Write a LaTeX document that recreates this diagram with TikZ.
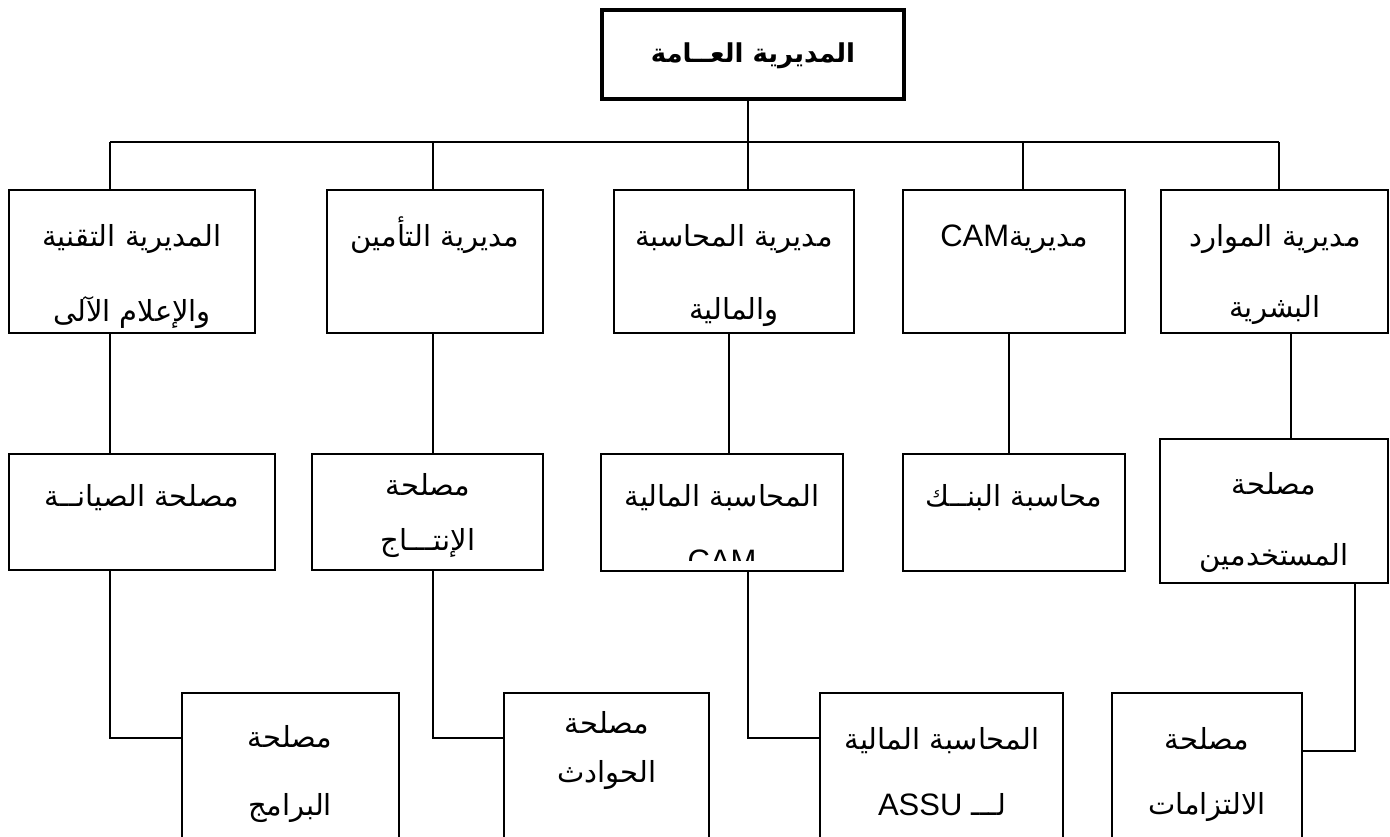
\documentclass[tikz,border=0pt]{standalone}
\usepackage{fontspec}
\setmainfont{Liberation Sans}
\newfontfamily\arabicfont[Script=Arabic]{DejaVu Sans}
\newfontfamily\latinfont{Liberation Sans}
\TeXXeTstate=1
\usetikzlibrary{fit}
\newcommand\artext[1]{\beginR#1\endR}
\newcommand\lat[1]{\beginL{\latinfont\fontsize{31}{36}\selectfont #1}\endL}

\begin{document}
\begin{tikzpicture}[x=1pt,y=-1pt,
  unit/.style={draw, line width=1.6pt, inner sep=0pt, outer sep=0pt},
  headunit/.style={unit, line width=3.6pt},
  link/.style={draw, line width=1.6pt},
  caption/.style={inner sep=0pt, font=\arabicfont\fontsize{29}{34}\selectfont,
                  text height=0.9em, text depth=0.1em, yshift=-5pt},
  headcaption/.style={caption, font=\arabicfont\bfseries\fontsize{26}{30}\selectfont}]

\useasboundingbox (0,0) rectangle (1390,836);
\clip (0,0) rectangle (1390,836);

% general management
\node[headunit, fit={(602,10)(904,99)}] (gm) {};
\node[headcaption] (gmT) at (753,53) {\artext{المديرية العــامة}};

% directorates
\node[unit, fit={(9,190)(255,333)}]    (d1) {};
\node[unit, fit={(327,190)(543,333)}]  (d2) {};
\node[unit, fit={(614,190)(854,333)}]  (d3) {};
\node[unit, fit={(903,190)(1125,333)}] (d4) {};
\node[unit, fit={(1161,190)(1388,333)}] (d5) {};

\node[caption] (d1a) at (132,237) {\artext{المديرية التقنية}};
\node[caption] (d1b) at (132,312) {\artext{والإعلام الآلى}};
\node[caption] (d2a) at (435,237) {\artext{مديرية التأمين}};
\node[caption] (d3a) at (734,237) {\artext{مديرية المحاسبة}};
\node[caption] (d3b) at (734,310) {\artext{والمالية}};
\node[caption] (d4a) at (1014,237) {\artext{مديرية\lat{CAM}}};
\node[caption] (d5a) at (1275,237) {\artext{مديرية الموارد}};
\node[caption] (d5b) at (1275,308) {\artext{البشرية}};

% services
\node[unit, fit={(9,454)(275,570)}]    (s1) {};
\node[unit, fit={(312,454)(543,570)}]  (s2) {};
\node[unit, fit={(601,454)(843,571)}]  (s3) {};
\node[unit, fit={(903,454)(1125,571)}] (s4) {};
\node[unit, fit={(1160,439)(1388,583)}] (s5) {};

\node[caption] (s1a) at (142,497) {\artext{مصلحة الصيانــة}};
\node[caption] (s2a) at (428,486) {\artext{مصلحة}};
\node[caption] (s2b) at (428,541) {\artext{الإنتـــاج}};
\node[caption] (s3a) at (722,497) {\artext{المحاسبة المالية}};
\begin{scope}
  \clip (601,454) rectangle (843,560);
  \node[caption] (s3b) at (722,562) {\artext{\lat{CAM}}};
\end{scope}
\node[caption] (s4a) at (1014,497) {\artext{محاسبة البنــك}};
\node[caption] (s5a) at (1274,485) {\artext{مصلحة}};
\node[caption] (s5b) at (1274,556) {\artext{المستخدمين}};

% sub-services (run past the lower edge)
\node[unit, fit={(182,693)(399,900)}]   (t1) {};
\node[unit, fit={(504,693)(709,900)}]   (t2) {};
\node[unit, fit={(820,693)(1063,900)}]  (t3) {};
\node[unit, fit={(1112,693)(1302,900)}] (t4) {};

\node[caption] (t1a) at (290,738) {\artext{مصلحة}};
\node[caption] (t1b) at (290,806) {\artext{البرامج}};
\node[caption] (t2a) at (607,724) {\artext{مصلحة}};
\node[caption] (t2b) at (607,773) {\artext{الحوادث}};
\node[caption] (t3a) at (942,740) {\artext{المحاسبة المالية}};
\node[caption] (t3b) at (942,806) {\artext{لـــ \lat{ASSU}}};
\node[caption] (t4a) at (1207,740) {\artext{مصلحة}};
\node[caption] (t4b) at (1207,805) {\artext{الالتزامات}};

% bus under the general management
\coordinate (busL) at (110,142);
\coordinate (bus2) at (433,142);
\coordinate (busC) at (748,142);
\coordinate (bus4) at (1023,142);
\coordinate (busR) at (1279,142);
\draw[link] (gm.south -| busC) -- (busC);
\draw[link] (busL) -- (busR);
\draw[link] (busL) -- (busL |- d1.north);
\draw[link] (bus2) -- (bus2 |- d2.north);
\draw[link] (busC) -- (busC |- d3.north);
\draw[link] (bus4) -- (bus4 |- d4.north);
\draw[link] (busR) -- (busR |- d5.north);

% directorate to service
\coordinate (c3) at (729,0);
\coordinate (c4) at (1009,0);
\coordinate (c5) at (1291,0);
\draw[link] (d1.south -| busL) -- (s1.north -| busL);
\draw[link] (d2.south -| bus2) -- (s2.north -| bus2);
\draw[link] (d3.south -| c3) -- (s3.north -| c3);
\draw[link] (d4.south -| c4) -- (s4.north -| c4);
\draw[link] (d5.south -| c5) -- (s5.north -| c5);

% service to sub-service
\coordinate (e3) at (0,738);
\coordinate (e4) at (0,751);
\coordinate (c6) at (1355,0);
\draw[link] (s1.south -| busL) |- (t1.west |- e3);
\draw[link] (s2.south -| bus2) |- (t2.west |- e3);
\draw[link] (s3.south -| busC) |- (t3.west |- e3);
\draw[link] (s5.south -| c6) |- (t4.east |- e4);
\end{tikzpicture}
\end{document}
